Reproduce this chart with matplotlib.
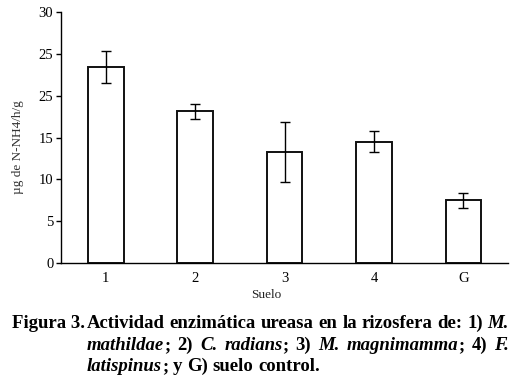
import matplotlib
matplotlib.use("Agg")
import matplotlib.pyplot as plt
import numpy as np

# Data
suelos = ["1", "2", "3", "4", "G"]
actividad = [23.4, 18.1, 13.3, 14.5, 7.5]
error = [1.95, 0.95, 3.55, 1.25, 0.9]
yticks = [0, 5, 10, 15, 20, 25, 30]
ytick_labels = ["0", "5", "10", "15", "25", "25", "30"]  # as printed in the figure

plt.rcParams["font.family"] = ["Liberation Serif", "DejaVu Serif"]

fig = plt.figure(figsize=(5.19, 3.87), dpi=100)
ax = fig.add_axes([0.1175, 0.3196, 0.979 - 0.1175, 0.9698 - 0.3196])

x = np.arange(len(suelos))
ax.bar(x, actividad, width=0.4, color="white", edgecolor="#111111", linewidth=1.4,
       yerr=error, capsize=3.3, error_kw=dict(elinewidth=1.0, capthick=1.0, ecolor="black"))

ax.set_xlim(-0.5, 4.5)
ax.set_ylim(0, 30)
ax.set_xticks(x)
ax.set_xticklabels(suelos, fontsize=10.5)
ax.set_yticks(yticks)
ax.set_yticklabels(ytick_labels, fontsize=10.5)
ax.tick_params(axis="x", length=0, pad=6)
ax.tick_params(axis="y", length=3.5, width=1, pad=2)
for s in ["top", "right"]:
    ax.spines[s].set_visible(False)
ax.spines["left"].set_linewidth(1)
ax.spines["bottom"].set_linewidth(1)

fig.text(18 / 519, 1 - 147 / 387, "µg de N-NH4/h/g", rotation=90, ha="center", va="center",
         fontsize=9.5, color="#333333")
fig.text(266 / 519, 1 - 295 / 387, "Suelo", ha="center", va="center", fontsize=9.5, color="#222222")

# Caption, justified word by word
W, H = 519, 387
fig.canvas.draw()
renderer = fig.canvas.get_renderer()
fs = 13.5
right = 509
indent = 87

fig.text(12 / W, 1 - 328 / H, "Figura 3.", fontsize=fs, fontweight="bold", va="baseline")

lines = [
    (328, True, [("Actividad", "n"), ("enzimática", "n"),
                 ("ureasa", "n"), ("en", "n"), ("la", "n"), ("rizosfera", "n"),
                 ("de:", "n"), ("1)", "n"), ("M.", "i")]),
    (350, True, [("mathildae", "i"), (";", "n"), ("2)", "n"), ("C.", "i"), ("radians", "i"),
                 (";", "n"), ("3)", "n"), ("M.", "i"), ("magnimamma", "i"), (";", "n"),
                 ("4)", "n"), ("F.", "i")]),
    (371, False, [("latispinus", "i"), (";", "n"), ("y", "n"), ("G)", "n"),
                  ("suelo", "n"), ("control.", "n")]),
]

for yb, justify, words in lines:
    # punctuation attaches to the previous word without a space
    tokens = []
    for w, st in words:
        if w == ";" and tokens:
            tokens[-1].append((w, st))
        else:
            tokens.append([(w, st)])
    arts = []
    widths = []
    for tok in tokens:
        group = []
        wsum = 0
        for w, st in tok:
            t = fig.text(0, 0, w, fontsize=fs, fontweight="bold",
                         fontstyle="italic" if st == "i" else "normal", va="baseline")
            bb = t.get_window_extent(renderer)
            group.append((t, bb.width))
            wsum += bb.width
        arts.append(group)
        widths.append(wsum)
    if justify:
        gap = (right - indent - sum(widths)) / (len(tokens) - 1)
    else:
        sp = fig.text(0, 0, "a b", fontsize=fs, fontweight="bold")
        sp2 = fig.text(0, 0, "ab", fontsize=fs, fontweight="bold")
        gap = sp.get_window_extent(renderer).width - sp2.get_window_extent(renderer).width
        sp.remove()
        sp2.remove()
    cur = indent
    for group in arts:
        for t, w in group:
            t.set_position((cur / W, 1 - yb / H))
            cur += w
        cur += gap

fig.savefig("out.png", dpi=100)
